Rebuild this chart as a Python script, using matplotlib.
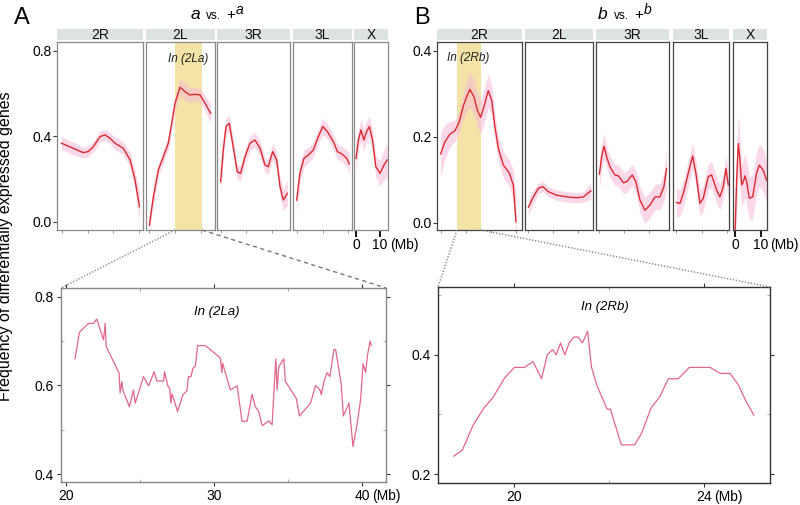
import matplotlib
matplotlib.use("Agg")
import matplotlib.pyplot as plt
from matplotlib.lines import Line2D
from matplotlib.patches import Rectangle

plt.rcParams['font.family'] = ['Liberation Sans', 'DejaVu Sans']

W, H = 800, 505

# ---- smoothed genome-wide curves (Mb, frequency, band half width) ----
arms = ["2R", "2L", "3R", "3L", "X"]

a_x = {
    "2R": [0, 9.0, 16.7, 20.6, 24.5, 29.6, 33.5, 37.3, 41.2, 47.6, 52.8, 56.6, 60.0],
    "2L": [0.1, 3.2, 7.0, 10.9, 14.7, 17.3, 19.9, 23.8, 27.6, 31.5, 35.4, 39.2, 43.1, 47.4],
    "3R": [0.1, 2.1, 4.2, 6.8, 9.3, 12.9, 15.5, 18.9, 22.7, 26.6, 30.5, 34.3, 36.9, 40.2, 43.3, 45.9, 48.5, 51.6],
    "3L": [0.1, 2.6, 5.7, 9.1, 12.9, 16.8, 20.2, 23.8, 28.4, 31.5, 34.9, 38.7, 40.7],
    "X": [0, 1.0, 2.1, 3.3, 4.4, 5.6, 6.9, 8.3, 10.0, 11.7, 13.1],
}
a_y = {
    "2R": [0.367, 0.343, 0.323, 0.328, 0.351, 0.398, 0.406, 0.390, 0.367, 0.343, 0.289, 0.195, 0.070],
    "2L": [-0.016, 0.117, 0.242, 0.304, 0.367, 0.460, 0.554, 0.629, 0.608, 0.593, 0.596, 0.593, 0.554, 0.507],
    "3R": [0.187, 0.335, 0.445, 0.460, 0.367, 0.234, 0.226, 0.304, 0.367, 0.382, 0.343, 0.265, 0.257,
           0.328, 0.289, 0.164, 0.101, 0.133],
    "3L": [0.101, 0.226, 0.296, 0.312, 0.335, 0.398, 0.445, 0.421, 0.374, 0.328, 0.317, 0.296, 0.270],
    "X": [0.296, 0.382, 0.429, 0.382, 0.421, 0.445, 0.382, 0.257, 0.226, 0.265, 0.289],
}
a_se = {
    "2R": [0.03, 0.03, 0.025, 0.025, 0.025, 0.025, 0.025, 0.025, 0.03, 0.03, 0.035, 0.045, 0.07],
    "2L": [0.04, 0.035, 0.03, 0.03, 0.03, 0.03, 0.035, 0.04, 0.04, 0.035, 0.03, 0.03, 0.035, 0.045],
    "3R": [0.05, 0.045, 0.04, 0.04, 0.035, 0.035, 0.035, 0.035, 0.035, 0.035, 0.035, 0.035, 0.035,
           0.04, 0.04, 0.045, 0.05, 0.06],
    "3L": [0.06, 0.045, 0.04, 0.035, 0.035, 0.035, 0.04, 0.035, 0.035, 0.035, 0.035, 0.04, 0.05],
    "X": [0.06, 0.05, 0.05, 0.05, 0.05, 0.05, 0.05, 0.05, 0.06, 0.07, 0.08],
}

b_x = {
    "2R": [0, 3.4, 7.4, 11.4, 14.9, 18.0, 20.7, 23.3, 26.5, 29.2, 31.8, 34.5, 37.9, 40.6, 43.2, 45.9,
           49.9, 54.6, 57.8, 60.0],
    "2L": [0.2, 4.1, 8.1, 11.6, 16.1, 22.7, 30.7, 38.6, 43.9, 49.8],
    "3R": [0.2, 2.0, 3.9, 6.0, 8.6, 12.6, 15.3, 19.3, 21.9, 26.4, 29.3, 32.5, 36.5, 40.5, 44.5, 48.4, 51.6, 53.7],
    "3L": [0, 2.8, 5.5, 9.4, 12.9, 15.5, 18.7, 21.4, 25.3, 28.0, 32.0, 34.6, 37.3, 39.4, 41.3],
    "X": [0, 0.65, 1.3, 1.95, 2.6, 3.25, 3.9, 4.55, 5.6, 6.9, 8.4, 9.5, 11.0, 12.3],
}
b_y = {
    "2R": [0.160, 0.188, 0.206, 0.214, 0.235, 0.271, 0.293, 0.310, 0.293, 0.262, 0.245, 0.270, 0.307,
           0.285, 0.223, 0.173, 0.134, 0.116, 0.088, 0.002],
    "2L": [0.036, 0.060, 0.080, 0.084, 0.072, 0.064, 0.060, 0.058, 0.060, 0.074],
    "3R": [0.113, 0.153, 0.178, 0.153, 0.130, 0.111, 0.109, 0.093, 0.095, 0.111, 0.095, 0.053, 0.029,
           0.041, 0.060, 0.060, 0.084, 0.126],
    "3L": [0.047, 0.045, 0.068, 0.115, 0.155, 0.115, 0.045, 0.057, 0.107, 0.111, 0.076, 0.060, 0.084,
           0.126, 0.088],
    "X": [-0.03, 0.099, 0.184, 0.146, 0.088, 0.095, 0.109, 0.095, 0.057, 0.060, 0.115, 0.134, 0.122, 0.099],
}
b_se = {
    "2R": [0.05, 0.04, 0.03, 0.025, 0.025, 0.03, 0.035, 0.04, 0.04, 0.04, 0.04, 0.04, 0.04, 0.035,
           0.03, 0.03, 0.03, 0.03, 0.035, 0.05],
    "2L": [0.02, 0.015, 0.012, 0.012, 0.012, 0.012, 0.012, 0.012, 0.012, 0.02],
    "3R": [0.035, 0.03, 0.03, 0.025, 0.025, 0.025, 0.025, 0.025, 0.025, 0.025, 0.025, 0.03, 0.03,
           0.03, 0.03, 0.03, 0.035, 0.05],
    "3L": [0.035, 0.03, 0.03, 0.03, 0.03, 0.03, 0.03, 0.03, 0.03, 0.03, 0.03, 0.03, 0.03, 0.03, 0.035],
    "X": [0.07, 0.07, 0.07, 0.06, 0.05, 0.05, 0.05, 0.05, 0.05, 0.05, 0.05, 0.05, 0.05, 0.05],
}

# inversion regions (Mb)
inv_a = ("2L", 19.9, 41.0)
inv_b = ("2R", 13.3, 31.8)

# ---- zoomed inversion windows ----
la_mb = [20.61, 20.90, 21.51, 21.85, 22.07, 22.53, 22.64, 22.71, 23.58, 23.65, 23.77, 23.83, 24.28,
         24.55, 24.67, 25.23, 25.57, 25.95, 26.13, 26.58, 26.65, 26.88, 26.99, 27.08, 27.15, 27.26,
         27.53, 27.89, 28.16, 28.27, 28.43, 28.57, 28.73, 28.88, 29.40, 30.42, 30.52, 30.57, 31.09,
         31.55, 31.88, 32.22, 32.56, 32.78, 33.01, 33.24, 33.69, 33.91, 34.16, 34.25, 34.36, 34.70,
         34.81, 35.54, 35.76, 36.51, 36.84, 37.14, 37.23, 37.41, 37.63, 37.81, 38.08, 38.20, 38.58,
         38.72, 39.10, 39.37, 39.66, 39.89, 40.05, 40.23, 40.34, 40.52, 40.61]
la_freq = [0.660, 0.720, 0.740, 0.740, 0.750, 0.703, 0.740, 0.688, 0.628, 0.583, 0.609, 0.590, 0.552,
           0.590, 0.560, 0.620, 0.599, 0.631, 0.610, 0.610, 0.631, 0.598, 0.594, 0.560, 0.581, 0.571,
           0.541, 0.579, 0.588, 0.620, 0.620, 0.639, 0.643, 0.690, 0.690, 0.662, 0.629, 0.650, 0.590,
           0.599, 0.519, 0.519, 0.580, 0.552, 0.541, 0.509, 0.520, 0.511, 0.660, 0.590, 0.642, 0.660,
           0.609, 0.571, 0.531, 0.560, 0.600, 0.590, 0.579, 0.609, 0.629, 0.620, 0.681, 0.681, 0.602,
           0.531, 0.560, 0.462, 0.515, 0.569, 0.649, 0.629, 0.666, 0.700, 0.690]

rb_mb = [18.73, 18.91, 19.14, 19.35, 19.56, 19.80, 20.01, 20.22, 20.40, 20.58, 20.70, 20.81, 20.89,
         20.98, 21.07, 21.16, 21.26, 21.35, 21.44, 21.55, 21.63, 21.74, 21.96, 22.03, 22.26, 22.54,
         22.69, 22.88, 23.07, 23.25, 23.46, 23.69, 24.13, 24.34, 24.55, 24.72, 24.90, 25.05]
rb_freq = [0.230, 0.240, 0.282, 0.309, 0.329, 0.361, 0.379, 0.379, 0.389, 0.360, 0.400, 0.409, 0.400,
           0.420, 0.400, 0.420, 0.430, 0.430, 0.420, 0.440, 0.380, 0.350, 0.309, 0.309, 0.249, 0.249,
           0.269, 0.310, 0.330, 0.360, 0.360, 0.379, 0.379, 0.369, 0.369, 0.350, 0.320, 0.299]

RED = "#dc2a2e"
BAND = "#f6b9da"
HIGHLIGHT = "#f3df98"
ZOOMLINE = "#e2668a"
STRIP = "#dde2e2"
TICKFS = 10


def fx(px):
    return px / W


def fy(py):
    return 1 - py / H


def add_ax(fig, x0, y0, x1, y1):
    return fig.add_axes([fx(x0), fy(y1), fx(x1) - fx(x0), (y1 - y0) / H])


def mb_label(ax, xval, offset_pt):
    # "(Mb)" unit placed right of the last tick label
    ax.annotate("(Mb)", xy=(xval, 0), xycoords=("data", "axes fraction"),
                xytext=(7, -offset_pt), textcoords="offset points",
                ha="left", va="top", fontsize=TICKFS)


fig = plt.figure(figsize=(8, 5.05), dpi=100)

# facet layout in pixels
a_cols = {"2R": (57.3, 142.7), "2L": (146, 214.7), "3R": (217.3, 290), "3L": (293.3, 351.7), "X": (354, 388.3)}
b_cols = {"2R": (437.3, 521.7), "2L": (525, 592.7), "3R": (596, 669.3), "3L": (673.3, 729.3), "X": (733.3, 767.3)}
a_xlim = {"2R": (-3.3, 62.5), "2L": (-2.5, 50.5), "3R": (-2.5, 53.6), "3L": (-2.5, 42.5), "X": (-0.83, 13.5)}
b_xlim = {"2R": (-2.65, 64.5), "2L": (-2.5, 51.3), "3R": (-2.5, 55.9), "3L": (-2.5, 42.1), "X": (-0.65, 12.6)}


def facet_panel(cols, xlims, xs, ys, ses, ylim, yticks, inv, frame_col):
    axes = {}
    for i, arm in enumerate(arms):
        x0, x1 = cols[arm]
        ax = add_ax(fig, x0, 41.7, x1, 230)
        ax.set_xlim(*xlims[arm])
        ax.set_ylim(*ylim)
        if arm == inv[0]:
            ax.axvspan(inv[1], inv[2], color=HIGHLIGHT, lw=0, zorder=0.5, alpha=0.85)
        lo = [y - s for y, s in zip(ys[arm], ses[arm])]
        hi = [y + s for y, s in zip(ys[arm], ses[arm])]
        ax.fill_between(xs[arm], lo, hi, color=BAND, alpha=0.55, lw=0, zorder=1)
        ax.plot(xs[arm], ys[arm], color=RED, lw=1.0, zorder=2)
        for sp in ax.spines.values():
            sp.set_color(frame_col)
            sp.set_linewidth(0.9)
        # facet strip
        ax.add_patch(Rectangle((0, 1 + 1.7 / 188), 1, 10.5 / 188, transform=ax.transAxes,
                               facecolor=STRIP, edgecolor="none", clip_on=False))
        ax.text(0.5, 1 + 7 / 188, arm, transform=ax.transAxes, ha="center", va="center",
                fontsize=10, color="#111111")
        if arm == "X":
            ax.set_xticks([0, 10])
            ax.set_xticklabels(["0", "10"], fontsize=TICKFS)
            ax.tick_params(axis="x", length=5, width=1.3, color="black", pad=1)
            mb_label(ax, 10, 6)
        else:
            ax.set_xticks([t for t in (0, 20, 40, 60) if t < xlims[arm][1]])
            ax.set_xticklabels([])
            ax.tick_params(axis="x", length=2.5, width=0.6, color="#888888")
        if i == 0:
            ax.set_yticks(yticks)
            ax.set_yticklabels([f"{t:.1f}" for t in yticks], fontsize=TICKFS)
            ax.tick_params(axis="y", length=3, width=0.8, color="#333333", pad=1)
        else:
            ax.set_yticks([])
        axes[arm] = ax
    return axes


axA = facet_panel(a_cols, a_xlim, a_x, a_y, a_se, (-0.039, 0.842), [0.0, 0.4, 0.8], inv_a, "#888888")
axA["2L"].text(0.61, 0.91, "In (2La)", transform=axA["2L"].transAxes, ha="center", va="center",
               fontsize=8.5, style="italic", color="#222222")
axB = facet_panel(b_cols, b_xlim, b_x, b_y, b_se, (-0.017, 0.421), [0.0, 0.2, 0.4], inv_b, "#444444")
axB["2R"].text(0.364, 0.915, "In (2Rb)", transform=axB["2R"].transAxes, ha="center", va="center",
               fontsize=8.5, style="italic", color="#222222")

# ---- zoomed panels ----
ax1 = add_ax(fig, 61, 288, 386, 482)
ax1.plot(la_mb, la_freq, color=ZOOMLINE, lw=0.9)
ax1.set_xlim(19.66, 41.6)
ax1.set_ylim(0.382, 0.82)
ax1.set_xticks([20, 30, 40])
ax1.set_xticklabels(["20", "30", "40"], fontsize=TICKFS)
ax1.set_yticks([0.4, 0.6, 0.8])
ax1.set_yticklabels(["0.4", "0.6", "0.8"], fontsize=TICKFS)
ax1.text(0.48, 0.878, "In (2La)", transform=ax1.transAxes, ha="center", va="center", fontsize=9.5,
         style="italic")
mb_label(ax1, 40, 5)

ax2 = add_ax(fig, 438, 287, 770, 483)
ax2.plot(rb_mb, rb_freq, color=ZOOMLINE, lw=0.9)
ax2.set_xlim(18.4, 25.39)
ax2.set_ylim(0.185, 0.514)
ax2.set_xticks([20, 24])
ax2.set_xticklabels(["20", "24"], fontsize=TICKFS)
ax2.set_yticks([0.2, 0.4])
ax2.set_yticklabels(["0.2", "0.4"], fontsize=TICKFS)
ax2.text(0.503, 0.9, "In (2Rb)", transform=ax2.transAxes, ha="center", va="center", fontsize=9.5,
         style="italic")
mb_label(ax2, 24, 5)

for ax, col, xminor, yminor in ((ax1, "#888888", [25, 35], [0.5, 0.7]),
                                (ax2, "#333333", [22], [0.3, 0.5])):
    for sp in ax.spines.values():
        sp.set_color(col)
        sp.set_linewidth(1.0)
    ax.tick_params(length=3, width=0.8, color="#333333", pad=2)
    ax.set_xticks(xminor, minor=True)
    ax.set_yticks(yminor, minor=True)
    ax.tick_params(which="minor", length=2, width=0.6, color="#999999", direction="in")
    ax.tick_params(which="both", top=True, right=True, labeltop=False, labelright=False)

# ---- connector lines ----
fig.add_artist(Line2D([fx(175), fx(61)], [fy(230), fy(288)], color="#888888", lw=1.0, ls=(0, (1, 1.2))))
fig.add_artist(Line2D([fx(202), fx(386)], [fy(230), fy(288)], color="#777777", lw=1.0, ls=(0, (3, 2.5))))
fig.add_artist(Line2D([fx(457), fx(438)], [fy(230), fy(287)], color="#888888", lw=1.0, ls=(0, (1, 1.2))))
fig.add_artist(Line2D([fx(481), fx(770)], [fy(230), fy(287)], color="#888888", lw=1.0, ls=(0, (1, 1.2))))

# ---- titles and labels ----
fig.text(fx(22), fy(18), "A", fontsize=17, ha="center", va="center")
fig.text(fx(422), fy(18), "B", fontsize=17, ha="center", va="center")


def title(xc, letter):
    fig.text(fx(xc - 27), fy(19), letter, fontsize=12.5, style="italic", ha="center", va="baseline")
    fig.text(fx(xc - 9), fy(19), "vs.", fontsize=8.5, ha="center", va="baseline")
    fig.text(fx(xc + 8.5), fy(19), "+", fontsize=11, ha="center", va="baseline")
    fig.text(fx(xc + 18), fy(14), letter, fontsize=10, style="italic", ha="center", va="baseline")


title(222, "a")
title(630, "b")

fig.text(fx(6), fy(246), "Frequency of differentially expressed genes", rotation=90,
         ha="center", va="center", fontsize=11.5)

fig.savefig("out.png", dpi=100)
